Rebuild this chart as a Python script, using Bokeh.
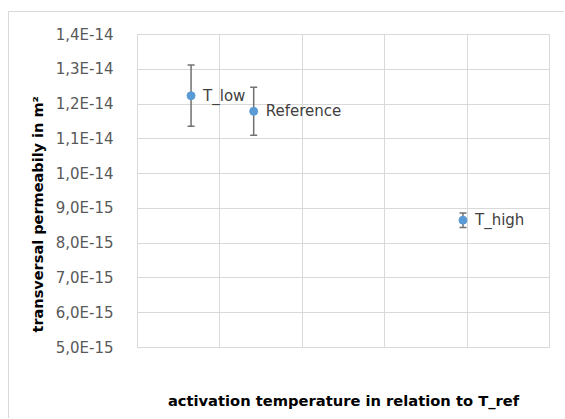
import math
from bokeh.plotting import figure
from bokeh.models import (ColumnDataSource, Whisker, FixedTicker, CustomJSTickFormatter,
                          Range1d, Title, LabelSet)
from bokeh.core.properties import value
from bokeh.embed import file_html
from bokeh.resources import INLINE

# ---- data ----
names = ["T_low", "Reference", "T_high"]
x_pos = [0.65, 1.41, 3.95]
perm = [1.224e-14, 1.179e-14, 8.66e-15]
err = [0.88e-15, 0.69e-15, 0.21e-15]
y_ticks = [5e-15, 6e-15, 7e-15, 8e-15, 9e-15, 1.0e-14, 1.1e-14, 1.2e-14, 1.3e-14, 1.4e-14]
x_grid = [0, 1, 2, 3, 4, 5]
x_title = "activation temperature in relation to T_ref"
y_title = "transversal permeabily in m²"

FONT = "DejaVu Sans"
GRID = "#d9d9d9"

src = ColumnDataSource(dict(
    x=x_pos, y=perm, names=names,
    lower=[v - e for v, e in zip(perm, err)],
    upper=[v + e for v, e in zip(perm, err)],
))

p = figure(width=556, height=407, output_backend="svg", toolbar_location=None,
           x_range=Range1d(0, 5), y_range=Range1d(5e-15, 1.4e-14),
           min_border_left=128, min_border_right=16, min_border_top=22, min_border_bottom=72)
p.styles = {"border-left": "1px solid #d9d9d9", "border-top": "1px solid #d9d9d9",
            "margin-top": "11px", "margin-left": "8px"}
p.outline_line_color = GRID
p.background_fill_color = "white"
p.border_fill_color = "white"

# axes
p.xaxis.ticker = FixedTicker(ticks=[])
p.xaxis.major_tick_line_color = None
p.xaxis.minor_tick_line_color = None
p.xaxis.axis_line_color = GRID
p.xaxis.axis_label = x_title
p.xaxis.axis_label_text_font = FONT
p.xaxis.axis_label_text_font_style = "bold"
p.xaxis.axis_label_text_font_size = "14.7px"
p.xaxis.axis_label_text_color = "#000000"
p.xaxis.axis_label_standoff = 44

p.yaxis.ticker = FixedTicker(ticks=y_ticks)
p.yaxis.formatter = CustomJSTickFormatter(code="""
    return tick.toExponential(1).replace('.', ',').replace('e', 'E');
""")
p.yaxis.major_label_text_font = FONT
p.yaxis.major_label_text_font_size = "15px"
p.yaxis.major_label_text_color = "#595959"
p.yaxis.major_tick_line_color = None
p.yaxis.minor_tick_line_color = None
p.yaxis.axis_line_color = GRID
p.yaxis.major_label_standoff = 18

p.xgrid.ticker = FixedTicker(ticks=x_grid)
p.xgrid.grid_line_color = GRID
p.ygrid.grid_line_color = GRID

# y title on the left side, placed low like the reference
p.add_layout(Title(text=y_title, align="left", offset=15, standoff=13,
                   text_font=FONT, text_font_style="bold", text_font_size="14.5px",
                   text_color="#000000"), "left")

# error bars
w = Whisker(source=src, base="x", upper="upper", lower="lower",
            line_color="#707070", line_width=1.5)
w.upper_head.size = 7
w.lower_head.size = 7
w.upper_head.line_color = "#707070"
w.lower_head.line_color = "#707070"
w.upper_head.line_width = 1.5
w.lower_head.line_width = 1.5
p.add_layout(w)

p.scatter("x", "y", source=src, size=8, fill_color="#5b9bd5", line_color="#5b9bd5")

p.add_layout(LabelSet(x="x", y="y", text="names", source=src, x_offset=12,
                      text_baseline="middle", text_font=value(FONT), text_font_size="15px",
                      text_color="#404040"))

open("out.html", "w").write(file_html(p, INLINE))
